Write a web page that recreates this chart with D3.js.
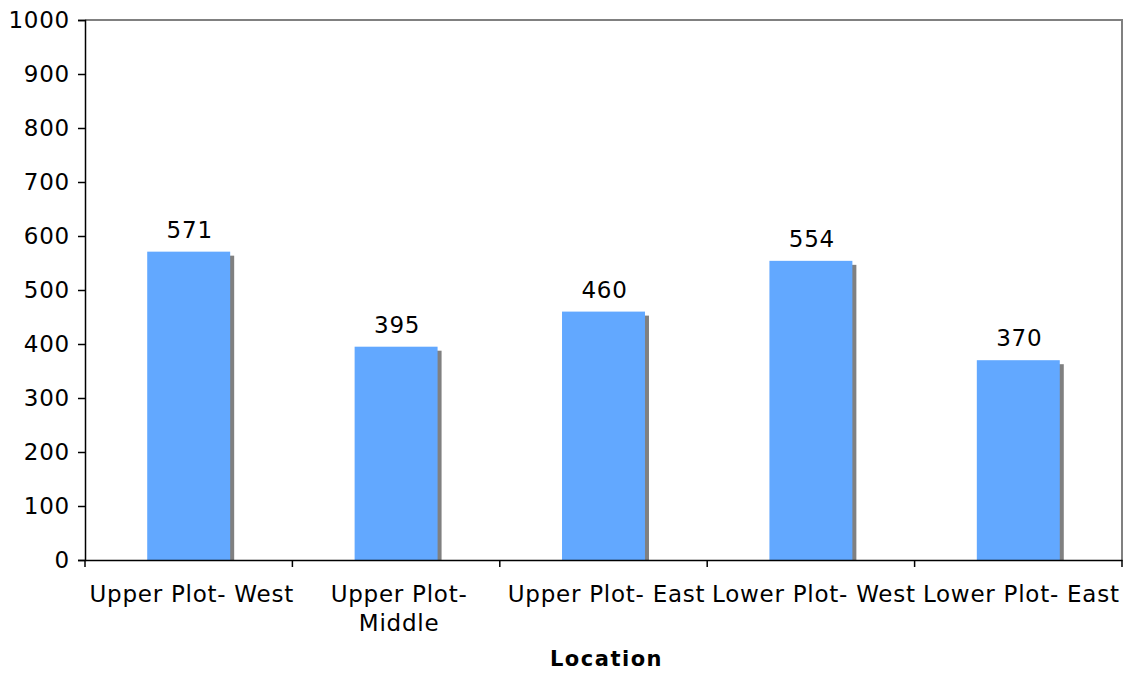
<!DOCTYPE html>
<html>
<head>
<meta charset="utf-8">
<script src="https://cdn.jsdelivr.net/npm/d3@7"></script>
<style>
    body { margin: 0; background: #fff; }
    text { font-family: "DejaVu Sans", Verdana, sans-serif; fill: #000; letter-spacing: 0.75px; }
</style>
</head>
<body>
<svg id="chart" width="1133" height="674"></svg>
<script>
// Chart data
const categories = ['Upper Plot- West', 'Upper Plot- Middle', 'Upper Plot- East', 'Lower Plot- West', 'Lower Plot- East'];
const categoryLines = [['Upper Plot- West'], ['Upper Plot-', 'Middle'], ['Upper Plot- East'], ['Lower Plot- West'], ['Lower Plot- East']];
const values = [571, 395, 460, 554, 370];
const yTicks = [0, 100, 200, 300, 400, 500, 600, 700, 800, 900, 1000];

const svg = d3.select('#chart');

// Plot area
const plotLeft = 85, plotRight = 1122, plotTop = 20, plotBottom = 560;

const x = d3.scaleBand()
            .domain(categories)
            .range([plotLeft, plotRight])
            .paddingInner(0)
            .paddingOuter(0);

const y = d3.scaleLinear()
            .domain([0, 1000])
            .range([plotBottom, plotTop]);

const barW = x.bandwidth() * 0.4;

// Top and right border of plot area
svg.append('path')
    .attr('d', `M${plotLeft},${plotTop}H${plotRight}V${plotBottom}`)
    .attr('fill', 'none')
    .attr('stroke', '#808080')
    .attr('stroke-width', 2);

// Bar shadows
svg.selectAll('rect.shadow')
    .data(values)
    .enter()
    .append('rect')
        .attr('class', 'shadow')
        .attr('x', (d, i) => x(categories[i]) + (x.bandwidth() - barW) / 2 + 4)
        .attr('y', d => y(d) + 4)
        .attr('width', barW)
        .attr('height', d => plotBottom - y(d) - 4)
        .attr('fill', '#808080');

// Bars
svg.selectAll('rect.bar')
    .data(values)
    .enter()
    .append('rect')
        .attr('class', 'bar')
        .attr('x', (d, i) => x(categories[i]) + (x.bandwidth() - barW) / 2)
        .attr('y', d => y(d))
        .attr('width', barW)
        .attr('height', d => plotBottom - y(d))
        .attr('fill', '#62a8ff');

// Value labels
svg.selectAll('text.value')
    .data(values)
    .enter()
    .append('text')
        .attr('class', 'value')
        .attr('x', (d, i) => x(categories[i]) + x.bandwidth() / 2 + 1)
        .attr('y', d => y(d) - 14)
        .attr('text-anchor', 'middle')
        .style('font-size', '23px')
        .text(d => d);

// Y axis
const yAxis = d3.axisLeft(y).tickValues(yTicks).tickFormat(d3.format('d')).tickSize(7).tickPadding(8);
const gy = svg.append('g').attr('transform', `translate(${plotLeft}, 0)`).call(yAxis);
gy.select('.domain').attr('stroke', '#000').attr('stroke-width', 1.5);
gy.selectAll('.tick line').attr('stroke', '#000').attr('stroke-width', 1.5);
gy.selectAll('.tick text')
    .style('font-size', '23px')
    .style('font-family', '"DejaVu Sans", Verdana, sans-serif')
    .attr('fill', '#000');

// X axis: ticks between categories
const xAxis = d3.axisBottom(x).tickSize(0).tickFormat('');
const gx = svg.append('g').attr('transform', `translate(0, ${plotBottom})`).call(xAxis);
gx.select('.domain').attr('stroke', '#000').attr('stroke-width', 1.5);
gx.selectAll('.tick').remove();

const bounds = categories.map(c => x(c)).concat([plotRight]);
svg.selectAll('line.xtick')
    .data(bounds)
    .enter()
    .append('line')
        .attr('class', 'xtick')
        .attr('x1', d => d).attr('x2', d => d)
        .attr('y1', plotBottom).attr('y2', plotBottom + 7)
        .attr('stroke', '#000')
        .attr('stroke-width', 1.5);

// Category labels
const catLabels = svg.selectAll('text.cat')
    .data(categoryLines)
    .enter()
    .append('text')
        .attr('class', 'cat')
        .attr('text-anchor', 'middle')
        .style('font-size', '23px');

catLabels.each(function(lines, i) {
    d3.select(this).selectAll('tspan')
        .data(lines)
        .enter()
        .append('tspan')
            .attr('x', x(categories[i]) + x.bandwidth() / 2 + 3)
            .attr('y', (d, j) => 602 + j * 29)
            .text(d => d);
});

// Axis title
svg.append('text')
    .attr('x', (plotLeft + plotRight) / 2 + 3)
    .attr('y', 666)
    .attr('text-anchor', 'middle')
    .style('font-size', '21px')
    .style('font-weight', 'bold')
    .style('letter-spacing', '1.5px')
    .text('Location');
</script>
</body>
</html>
